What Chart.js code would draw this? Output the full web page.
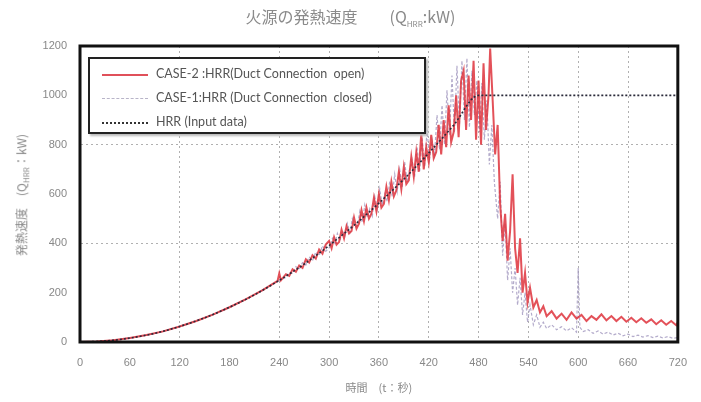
<!DOCTYPE html>
<html>
<head>
<meta charset="utf-8">
<script src="https://cdn.jsdelivr.net/npm/chart.js@4.4.1/dist/chart.umd.min.js"></script>
<style>
  body { margin: 0; background: #fff; }
  #wrap { position: relative; width: 701px; height: 402px; font-family: "Noto Sans CJK JP", sans-serif; }
  #chart { position: absolute; left: 0; top: 0; }
  .title { position: absolute; left: 0; width: 701px; top: 4px; text-align: center; font-size: 16px; color: #8a8a8a; }
  .ytitle { position: absolute; left: 22px; top: 195px; transform: translate(-50%, -50%) rotate(-90deg); white-space: nowrap; font-size: 12px; color: #8a8a8a; }
  .legend { position: absolute; left: 88px; top: 57px; width: 334px; height: 73px; border: 2px solid #222; background: #fff;
            box-shadow: 2px 2px 2px #bbb; font-family: Lato, sans-serif; font-size: 12.5px; color: #555; }
  .legend div { position: absolute; left: 12px; height: 18px; line-height: 18px; white-space: nowrap; }
  .legend span.s { display: inline-block; width: 46px; vertical-align: middle; margin-right: 8px; }
  sub { font-size: 8px; }
</style>
</head>
<body>
<div id="wrap">
  <canvas id="chart" width="701" height="402"></canvas>
  <div class="title">火源の発熱速度　　(Q<sub>HRR</sub>:kW)</div>
  <div class="ytitle">発熱速度　(Q<sub>HRR</sub>：kW)</div>
  <div class="legend">
    <div style="top:6px"><span class="s" style="border-top:2px solid #e0505a"></span>CASE-2 :HRR(Duct Connection&nbsp; open)</div>
    <div style="top:30px"><span class="s" style="border-top:1px dashed #b8b4c8"></span>CASE-1:HRR (Duct Connection&nbsp; closed)</div>
    <div style="top:54px"><span class="s" style="border-top:2px dotted #333"></span>HRR (Input data)</div>
  </div>
</div>
<script>
/************************
 *      Data
 ************************/
const X_TICKS = [0, 60, 120, 180, 240, 300, 360, 420, 480, 540, 600, 660, 720]
const Y_TICKS = [0, 200, 400, 600, 800, 1000, 1200]

// HRR input data (t, kW)
const INPUT_T = [0, 30, 60, 90, 120, 150, 180, 210, 240, 270, 300, 330, 360, 390, 420, 450, 480, 720]
const INPUT_Q = [0, 4, 16, 35, 63, 98, 141, 191, 250, 316, 391, 473, 563, 660, 766, 879, 1000, 1000]

// CASE-2 : duct connection open
const CASE2_T = [0, 20, 40, 60, 80, 100, 120, 140, 160, 180, 200, 220, 238, 240, 242,
  248, 252, 256, 260, 264, 268, 272, 276, 280, 284, 288, 292, 296,
  300, 303, 306, 309, 312, 315, 318, 321, 324, 327, 330, 333, 336, 339, 342, 345, 348, 351, 354, 357,
  360, 363, 366, 369, 372, 375, 378, 381, 384, 387, 390, 393, 396, 399, 402, 405, 408, 411, 414, 417,
  420, 423, 426, 429, 432, 435, 438, 441, 444, 447, 450, 453, 456, 459, 462, 465, 468, 471, 474, 477,
  480, 483, 486, 489, 492, 494, 497,
  500, 503, 506, 509, 512, 515, 518, 521, 524, 527, 530, 533, 536, 539, 542,
  546, 550, 554, 558, 562, 568, 574, 580, 586, 592, 598, 604, 610, 616, 622, 628, 634, 640, 646, 652,
  658, 664, 670, 676, 682, 688, 694, 700, 706, 712, 718, 720]
const CASE2_Q = [0, 2, 7, 16, 28, 43, 63, 85, 111, 141, 174, 210, 248, 278, 250,
  275, 268, 295, 285, 310, 300, 335, 322, 352, 338, 375, 358, 395,
  410, 380, 425, 395, 405, 455, 420, 470, 440, 450, 505, 460, 480, 535, 490, 545, 500, 520, 585, 530,
  600, 545, 560, 630, 575, 650, 590, 615, 690, 620, 710, 640, 655, 750, 670, 770, 690, 845, 700, 790,
  730, 840, 745, 770, 880, 760, 900, 790, 960, 810, 850, 1000, 830, 1060, 1100, 860, 1080, 900, 1140, 820,
  1060, 800, 1130, 860, 1000, 1190, 980,
  760, 880, 560, 410, 520, 330, 450, 680, 380, 280, 420, 200, 280, 160, 220,
  140, 170, 120, 145, 105, 125, 95, 115, 90, 120, 95, 110, 85, 105, 90, 112, 88, 105, 85, 102,
  82, 98, 80, 96, 78, 92, 72, 88, 70, 85, 68, 80]

// CASE-1 : duct connection closed
const CASE1_T = [0, 20, 40, 60, 80, 100, 120, 140, 160, 180, 200, 220, 240,
  248, 252, 256, 260, 264, 268, 272, 276, 280, 284, 288, 292, 296,
  301, 304, 307, 310, 313, 316, 319, 322, 325, 328, 331, 334, 337, 340, 343, 346, 349, 352, 355, 358,
  361, 364, 367, 370, 373, 376, 379, 382, 385, 388, 391, 394, 397, 400, 403, 406, 409, 412, 415, 418,
  421, 424, 427, 430, 433, 436, 439, 442, 445, 448, 451, 454, 457, 460, 463, 466, 469, 472, 475, 478,
  481, 484, 487, 490, 493, 496, 499,
  503, 506, 509, 512, 515, 518, 521, 524, 527, 530, 533, 536, 539, 542,
  546, 550, 554, 558, 562, 568, 574, 580, 586, 592, 598, 600, 602, 606, 612, 618, 624, 630, 636, 642,
  648, 654, 660, 666, 672, 678, 684, 690, 696, 702, 708, 714, 720]
const CASE1_Q = [0, 2, 7, 16, 28, 43, 63, 85, 111, 141, 174, 210, 250,
  262, 282, 278, 305, 295, 322, 312, 345, 330, 365, 350, 390, 368,
  385, 420, 400, 440, 410, 450, 430, 480, 445, 500, 465, 470, 530, 485, 555, 505, 540, 510, 590, 540,
  620, 555, 600, 570, 650, 590, 680, 610, 700, 625, 730, 650, 700, 740, 670, 790, 690, 830, 710, 860,
  740, 820, 760, 920, 780, 960, 800, 1020, 840, 1080, 850, 1120, 880, 1140, 900, 1150, 870, 1100, 920, 1060,
  850, 1050, 820, 980, 720, 880, 650,
  500, 650, 350, 480, 250, 380, 200, 300, 150, 260, 110, 200, 80, 150,
  70, 110, 60, 80, 55, 70, 50, 62, 45, 58, 40, 300, 60, 42, 50, 35, 45, 32, 40, 28,
  36, 25, 32, 22, 28, 20, 26, 18, 24, 16, 22, 15, 18]

/************************
 *      Method
 ************************/
const toPoints = (ts, qs) => ts.map((t, i) => ({ x: t, y: qs[i] }))

// thick frame round the plot area
const framePlugin = {
  id: 'frame',
  afterDatasetsDraw(chart) {
    const { ctx, chartArea: a } = chart
    ctx.save()
    ctx.strokeStyle = '#111'
    ctx.lineWidth = 3
    ctx.strokeRect(a.left, a.top, a.right - a.left, a.bottom - a.top)
    ctx.restore()
  }
}

const gridColorX = (c) => {
  const v = c.tick ? c.tick.value : -1
  return (v === 60 || v === 180 || v === 0 || v === 720) ? 'rgba(0,0,0,0)' : '#b0b0b0'
}
const gridColorY = (c) => {
  const v = c.tick ? c.tick.value : -1
  return (v === 400 || v === 800) ? '#b0b0b0' : 'rgba(0,0,0,0)'
}

new Chart('chart', {
  type: 'line',
  data: {
    datasets: [
      {
        label: 'CASE-2 :HRR(Duct Connection  open)',
        data: toPoints(CASE2_T, CASE2_Q),
        borderColor: 'rgba(222,50,60,0.85)',
        borderWidth: 2,
        pointRadius: 0,
        tension: 0,
        order: 1
      },
      {
        label: 'CASE-1:HRR (Duct Connection  closed)',
        data: toPoints(CASE1_T, CASE1_Q),
        borderColor: 'rgba(160,150,190,0.8)',
        borderWidth: 1.2,
        borderDash: [3, 2],
        pointRadius: 0,
        tension: 0,
        order: 2
      },
      {
        label: 'HRR (Input data)',
        data: toPoints(INPUT_T, INPUT_Q),
        borderColor: '#2a2a3a',
        borderWidth: 1.6,
        borderDash: [2, 2],
        pointRadius: 0,
        cubicInterpolationMode: 'monotone',
        order: 0
      }
    ]
  },
  options: {
    responsive: false,
    animation: false,
    layout: { padding: { left: 0, right: 13, top: 46, bottom: 0 } },
    plugins: { legend: { display: false }, tooltip: { enabled: false } },
    scales: {
      x: {
        type: 'linear', min: 0, max: 720,
        afterBuildTicks: (s) => { s.ticks = X_TICKS.map(v => ({ value: v })) },
        afterFit: (s) => { s.height = 60 },
        grid: { color: gridColorX, drawTicks: false },
        border: { display: true, color: 'rgba(0,0,0,0)', dash: [2, 3] },
        ticks: { padding: 14, color: '#888', font: { family: 'Liberation Sans', size: 11 }, maxRotation: 0,
                 callback: (v) => String(v) },
        title: { display: true, text: '時間　(t：秒)', color: '#888', padding: { top: 0, bottom: 8 }, font: { family: 'Noto Sans CJK JP', size: 11 } }
      },
      y: {
        min: 0, max: 1200,
        afterBuildTicks: (s) => { s.ticks = Y_TICKS.map(v => ({ value: v })) },
        afterFit: (s) => { s.width = 80 },
        grid: { color: gridColorY, drawTicks: false },
        border: { display: true, color: 'rgba(0,0,0,0)', dash: [2, 3] },
        ticks: { padding: 13, color: '#888', font: { family: 'Liberation Sans', size: 11 },
                 callback: (v) => String(v) }
      }
    }
  },
  plugins: [framePlugin]
})
</script>
</body>
</html>
